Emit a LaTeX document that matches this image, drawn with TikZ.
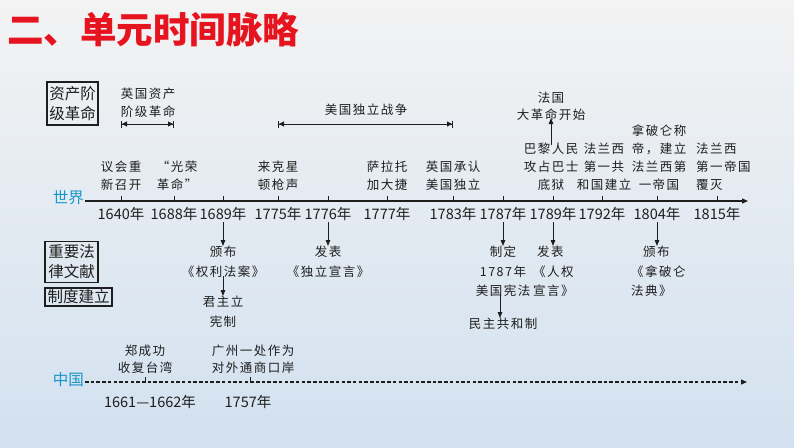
\documentclass[tikz,border=0pt]{standalone}
\usepackage{fontspec}
\setmainfont{Noto Sans CJK SC}
\newfontfamily\evfont[LetterSpace=12]{Noto Sans CJK SC}
\usetikzlibrary{arrows.meta}
\definecolor{titlered}{RGB}{230,20,30}
\definecolor{sideblue}{RGB}{25,150,200}
\definecolor{bgtop}{RGB}{243,243,243}
\definecolor{bgmid}{RGB}{232,236,241}
\definecolor{bgbot}{RGB}{210,225,240}
\definecolor{ink}{RGB}{30,30,30}
\begin{document}
\begin{tikzpicture}[x=1pt,y=-1pt,
  ev/.style={font=\evfont\fontsize{12.5}{18}\selectfont, align=center, inner sep=0pt, text=ink},
  evb/.style={font=\evfont\fontsize{12.5}{19.5}\selectfont, align=center, inner sep=0pt, text=ink},
  yr/.style={font=\fontsize{14.5}{17}\selectfont, inner sep=0pt, text=ink},
  catbox/.style={draw=ink, line width=1.1pt, font=\fontsize{15.5}{20}\selectfont, align=center, inner sep=0pt, text=ink},
  axisline/.style={line width=1.3pt, draw=ink, -{Triangle[length=6pt,width=5pt]}},
  tickline/.style={line width=1pt, draw=ink},
  dn/.style={line width=1pt, draw=ink, -{Triangle[length=6pt,width=4.5pt]}},
  spanline/.style={line width=1pt, draw=ink, {Bar[width=7pt]Triangle[length=5pt,width=5pt]}-{Triangle[length=5pt,width=5pt]Bar[width=7pt]}},
  side/.style={font=\fontsize{15.5}{18}\selectfont, text=sideblue, inner sep=0pt}]

% background
\shade[top color=bgtop, middle color=bgmid, bottom color=bgbot] (0,0) rectangle (794,447);
\useasboundingbox (0,0) rectangle (794,447);

% title
\node[anchor=west, text=titlered, font=\fontsize{36.5}{40}\selectfont\bfseries, inner sep=0pt] (title) at (7,30) {二、单元时间脉略};

% category boxes
\node[catbox, minimum width=51pt, minimum height=43pt] (catA) at (72.5,103.5) {资产阶\\级革命};
\node[catbox, minimum width=53pt, minimum height=41pt] (catB) at (71.5,262) {重要法\\律文献};
\node[catbox, minimum width=67pt, minimum height=18pt] (catC) at (78.5,297) {制度建立};

% world axis
\node[side, anchor=east] (world) at (84,198) {世界};
\coordinate (w0) at (85,201);
\coordinate (w1) at (748,201);
\draw[axisline] (w0) -- (w1);

\foreach \x/\n in {121/1640,174/1688,223/1689,278/1775,328/1776,387/1777,453/1783,503/1787,553/1789,602/1792,657/1804,717/1815}{
  \coordinate (t\n) at (\x,201);
  \draw[tickline] (t\n) -- ++(0,-5);
  \node[yr] (y\n) at (\x,214) {\n 年};
}

% revolution spans
\coordinate (sa1) at (121,124);
\coordinate (sa2) at (174,124);
\draw[spanline] (sa1) -- (sa2);
\node[ev, anchor=south] (engrev) at (148,118) {英国资产\\阶级革命};

\coordinate (sb1) at (278,124);
\coordinate (sb2) at (453,124);
\draw[spanline] (sb1) -- (sb2);
\node[ev] (amwar) at (366,110) {美国独立战争};

% events above the world axis
\node[ev, anchor=south] (e1640) at (121,191) {议会重\\新召开};
\node[ev, anchor=south] (e1688) at (177,191) {“光荣\\革命”};
\node[ev, anchor=south] (e1775) at (278,191) {来克星\\顿枪声};
\node[ev, anchor=south] (e1777) at (387,191) {萨拉托\\加大捷};
\node[ev, anchor=south] (e1783) at (453,191) {英国承认\\美国独立};
\node[ev, anchor=south] (e1789) at (551,191) {巴黎人民\\攻占巴士\\底狱};
\node[ev, anchor=south] (e1792) at (604,191) {法兰西\\第一共\\和国建立};
\node[ev, anchor=south] (e1804) at (659,191) {拿破仑称\\帝，建立\\法兰西第\\一帝国};
\node[ev, anchor=south west, align=left] (e1815) at (696,191) {法兰西\\第一帝国\\覆灭};

\node[ev, anchor=south, font=\evfont\fontsize{12.5}{17}\selectfont] (frrev) at (551,121) {法国\\大革命开始};
\draw[dn] ([yshift=-2pt]e1789.north -| frrev.south) -- ([yshift=3pt]frrev.south);

% documents and institutions
\coordinate (d1689) at (223,222);
\node[evb, anchor=north] (l1689) at (223,246) {颁布\\《权利法案》};
\draw[dn] (d1689) -- (l1689.north);
\node[evb, anchor=north] (i1689) at (223,296) {君主立\\宪制};
\draw[dn] ([yshift=1pt]l1689.south) -- (i1689.north);

\coordinate (d1776) at (328,222);
\node[evb, anchor=north] (l1776) at (328,246) {发表\\《独立宣言》};
\draw[dn] (d1776) -- (l1776.north);

\coordinate (d1787) at (503,222);
\node[evb, anchor=north] (l1787) at (503,246) {制定\\1787年\\美国宪法};
\draw[dn] (d1787) -- (l1787.north);
\node[evb, anchor=north] (i1787) at (503,318) {民主共和制};
\draw[dn] ([xshift=-3pt,yshift=3pt]l1787.south) -- ([xshift=-3pt]i1787.north);

\coordinate (d1789) at (553,222);
\node[evb, anchor=north west, align=left] (l1789) at (533,246) {\hspace*{4pt}发表\\《人权\\宣言》};
\draw[dn] (d1789) -- (d1789 |- l1789.north);

\coordinate (d1804) at (657,222);
\node[evb, anchor=north west, align=left] (l1804) at (631,246) {\hspace*{12pt}颁布\\《拿破仑\\法典》};
\draw[dn] (d1804) -- (d1804 |- l1804.north);

% China axis
\node[side, anchor=east] (china) at (84,380) {中国};
\coordinate (c0) at (85,382);
\coordinate (c1) at (747,382);
\draw[axisline, line width=1.1pt, dash pattern=on 3.5pt off 2.2pt] (c0) -- (c1);
\coordinate (c1661) at (145,382);
\coordinate (c1757) at (250,382);
\draw[tickline] (c1661) -- ++(0,-5);
\draw[tickline] (c1757) -- ++(0,-5);
\node[ev, anchor=south, font=\evfont\fontsize{12.5}{17}\selectfont] (zheng) at (145,374) {郑成功\\收复台湾};
\node[ev, anchor=south, font=\evfont\fontsize{12.5}{17}\selectfont] (canton) at (253,374) {广州一处作为\\对外通商口岸};
\node[yr] (cy1) at (150,402) {1661—1662年};
\node[yr] (cy2) at (248,402) {1757年};
\end{tikzpicture}
\end{document}
